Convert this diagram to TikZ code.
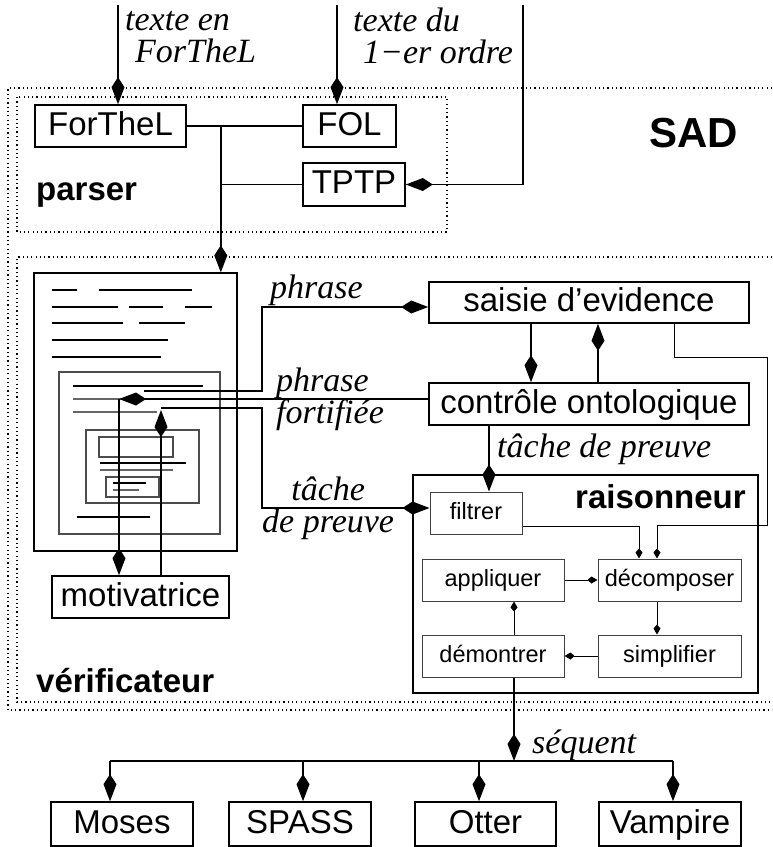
\documentclass[tikz,border=0pt]{standalone}
\usepackage{fontspec}
\setmainfont{Liberation Serif}
\setsansfont{Liberation Sans}
\usetikzlibrary{arrows.meta}

\newcommand{\boxfont}{\sffamily\fontsize{33}{38}\selectfont}
\newcommand{\smallfont}{\sffamily\fontsize{23.5}{28}\selectfont}
\newcommand{\titlefont}{\sffamily\bfseries\fontsize{33}{38}\selectfont}
\newcommand{\labelfont}{\itshape\fontsize{34}{32}\selectfont}

\tikzset{
  bigbox/.style={draw, line width=1.6pt, font=\boxfont, inner sep=0pt, minimum height=42pt,
                 text height=24pt, text depth=6pt},
  smallbox/.style={draw=black!75, line width=1pt, font=\smallfont, inner sep=0pt, minimum height=42pt,
                   text height=17pt, text depth=4.5pt},
  lbl/.style={font=\labelfont, anchor=base west, inner sep=0pt, align=left},
  title/.style={font=\titlefont, anchor=base west, inner sep=0pt},
  dia/.style={-{Kite[length=27pt,width=13pt,inset=10pt]}, line width=1.8pt},
  smalldia/.style={-{Kite[length=10pt,width=7pt,inset=4pt]}, line width=1pt},
  dotbox/.style={line width=1.2pt, dash pattern=on 1.2pt off 3.1pt},
  docline/.style={line width=1.2pt},
}

\begin{document}
\begin{tikzpicture}[x=1pt,y=-1pt]
    \useasboundingbox (0,0) rectangle (772,847);

    %%%%%%%%%% Cadres %%%%%%%%%%
    \draw[dotbox] (772,88) -- (8,88) -- (8,710) -- (772,710);
    \draw[dotbox] (17,97) rectangle (447,232);
    \draw[dotbox] (772,257) -- (17,257) -- (17,702) -- (772,702);
    \node[title, font=\sffamily\bfseries\fontsize{42}{48}\selectfont] at (649,147) {SAD};
    \node[title] at (36,200) {parser};
    \node[title] at (36,692) {vérificateur};

    %%%%%%%%%% Parser %%%%%%%%%%
    \node[bigbox, minimum width=151pt] (forthel) at (110.5,126) {ForTheL};
    \node[bigbox, minimum width=93pt] (fol) at (349.5,126) {FOL};
    \node[bigbox, minimum width=102pt, minimum height=43pt] (tptp) at (354,184.5) {TPTP};

    %%%%%%%%%% Texte %%%%%%%%%%
    \node[draw, line width=1.2pt, minimum width=203pt, minimum height=278pt, inner sep=0pt] (doc) at (135.5,412) {};
    \foreach \xa/\xb/\y in {52/77/290, 99/192/290, 52/118/307, 129/163/307, 185/212/307,
                            52/123/323, 139/185/323, 52/168/340, 52/161/357}
        \draw[docline] (\xa,\y) -- (\xb,\y);
    \draw[docline, black!70] (59,372) rectangle (220,534);
    \draw[docline] (73,386) -- (203,386);
    \draw[docline, black!60] (73,399) -- (178,399);
    \draw[docline, black!60] (73,412) -- (157,412);
    \draw[docline, black!70] (86,430) rectangle (199,503);
    \draw[docline, black!70] (99,437) rectangle (173,457);
    \draw[docline] (100,463) -- (186,463);
    \draw[docline, black!60] (100,470) -- (173,470);
    \draw[docline, black!70] (106,477) rectangle (159,497);
    \draw[docline] (113,483) -- (146,483);
    \draw[docline, black!60] (113,490) -- (139,490);
    \draw[docline] (77,517) -- (150,517);

    %%%%%%%%%% Verificateur %%%%%%%%%%
    \node[bigbox, minimum width=320pt, minimum height=41pt] (saisie) at (589,302.5) {saisie d’evidence};
    \node[bigbox, minimum width=320pt] (onto) at (589,404) {contrôle ontologique};
    \node[bigbox, minimum width=177pt] (motiv) at (140.5,597) {motivatrice};

    \node[draw, line width=2pt, minimum width=345pt, minimum height=218pt, inner sep=0pt] (rais) at (585.5,584) {};
    \node[title] at (575,508) {raisonneur};
    \node[smallbox, minimum width=92pt] (filtrer) at (476,513) {filtrer};
    \node[smallbox, minimum width=142pt] (appl) at (493,580) {appliquer};
    \node[smallbox, minimum width=143pt] (decomp) at (669.5,580) {décomposer};
    \node[smallbox, minimum width=142pt] (demon) at (493,656) {démontrer};
    \node[smallbox, minimum width=143pt] (simpl) at (669.5,656) {simplifier};

    %%%%%%%%%% Prouveurs %%%%%%%%%%
    \node[bigbox, minimum width=142pt, minimum height=44pt] (moses) at (122,824) {Moses};
    \node[bigbox, minimum width=142pt, minimum height=44pt] (spass) at (300,824) {SPASS};
    \node[bigbox, minimum width=141pt, minimum height=44pt] (otter) at (485.5,824) {Otter};
    \node[bigbox, minimum width=142pt, minimum height=44pt] (vampire) at (670,824) {Vampire};

    %%%%%%%%%% Fleches %%%%%%%%%%
    \coordinate (in1) at (118,5);
    \coordinate (in2) at (337,5);
    \coordinate (in3) at (523,5);
    \draw[dia] (in1) -- (in1 |- forthel.north);
    \draw[dia] (in2) -- (in2 |- fol.north);
    \draw[dia] (in3) |- (tptp.east);
    \node[lbl] at (125,62) {texte en\\\hspace*{10pt}ForTheL};
    \node[lbl] at (353,63) {texte du\\\hspace*{10pt}1−er ordre};

    \path (forthel.east) ++(34,0) coordinate (j1);
    \draw[line width=1.8pt] (forthel.east) -- (fol.west);
    \draw[line width=1.8pt] (j1) |- (tptp.west);
    \draw[dia] (j1) -- (j1 |- doc.north);

    \draw[dia] (144,391) -- (262,391) |- ([yshift=-4.5pt]saisie.west);
    \node[lbl] at (270,298) {phrase};

    \coordinate (f1) at (119,399);
    \draw[dia] ([yshift=5pt]onto.west) -- (f1);
    \draw[dia] (f1) -- (f1 |- motiv.north);
    \node[lbl] at (276,423) {phrase\\fortifiée};

    \coordinate (f2) at (161,408);
    \draw[dia] (f2 |- motiv.north) -- ([yshift=-2pt]f2);
    \draw[dia] (f2) -- (262,408) |- ([yshift=5pt]filtrer.west);
    \node[lbl, align=center] at (262,532) {tâche\\de preuve};

    \draw[dia] ([xshift=-58pt]saisie.south) -- ([xshift=-58pt]onto.north);
    \draw[dia] ([xshift=9pt]onto.north) -- ([xshift=9pt]saisie.south);
    \draw[dia] ([xshift=-100pt]onto.south) -- ([xshift=-100pt]onto.south |- filtrer.north);
    \node[lbl] at (497,457) {tâche de preuve};

    \draw[smalldia] ([xshift=85pt]saisie.south) -- ++(0,34) -| (767,525) -| ([xshift=-12.5pt]decomp.north);
    \draw[smalldia] ([yshift=-13pt]filtrer.east) -| ([xshift=-30.5pt]decomp.north);
    \draw[smalldia] (appl.east) -- (decomp.west);
    \draw[smalldia] ([xshift=-12.5pt]decomp.south) -- ([xshift=-12.5pt]simpl.north);
    \draw[smalldia] (simpl.west) -- (demon.east);
    \draw[smalldia] ([xshift=21pt]demon.north) -- ([xshift=21pt]appl.south);

    \coordinate (sq) at (514,761);
    \draw[dia] ([xshift=21pt]demon.south) -- (sq);
    \node[lbl] at (532,753) {séquent};
    \draw[line width=1.8pt] ([xshift=-12pt]moses.north |- sq) -- ([xshift=3pt]vampire.north |- sq);
    \foreach \p/\dx in {moses/-12, spass/3, otter/-6.5, vampire/3}
        \draw[dia] ([xshift=\dx pt]\p.north |- sq) -- ([xshift=\dx pt]\p.north);
\end{tikzpicture}
\end{document}
